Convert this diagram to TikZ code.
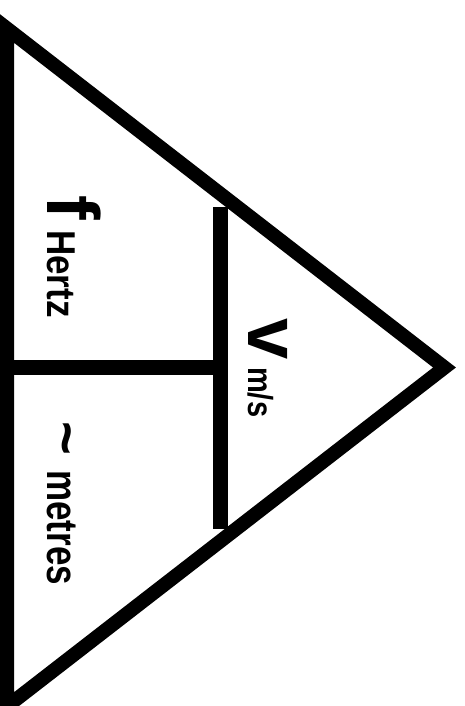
\documentclass[tikz,border=0pt]{standalone}
\usepackage{fontspec}
\setmainfont{Liberation Sans}
\begin{document}
\begin{tikzpicture}[x=1pt,y=-1pt,
  every node/.style={inner sep=0pt,anchor=base west,rotate=-90,font=\bfseries},
  edge/.style={line width=14pt,line join=miter},
  bar/.style={line width=15pt}]
\useasboundingbox (0,0) rectangle (465,706);
\coordinate (top) at (7,28.5);
\coordinate (apex) at (444.5,367.5);
\coordinate (bottom) at (7,706.5);
\coordinate (barT) at (220.5,206.5);
\coordinate (barB) at (220.5,528.5);
\coordinate (junc) at (220.5,367.5);
\coordinate (side) at (7,367.5);
\draw[edge] (top) -- (apex) -- (bottom) -- cycle;
\draw[bar] (barT) -- (barB);
\draw[bar] (side) -- (junc);
\node (fsym) at (47,195) {\fontsize{74}{74}\selectfont f};
\node (funit) at (47,230) {\scalebox{1}[1.15]{\fontsize{35}{35}\selectfont Hertz}};
\node (vsym) at (248,318) {\fontsize{74}{74}\selectfont v};
\node (vunit) at (248,367) {\scalebox{1}[1.2]{\fontsize{29}{29}\selectfont m/s}};
\node (lsym) at (47,421) {\fontsize{58}{58}\selectfont \textasciitilde};
\node (lunit) at (47,470) {\scalebox{1}[1.25]{\fontsize{35}{35}\selectfont metres}};
\end{tikzpicture}
\end{document}
